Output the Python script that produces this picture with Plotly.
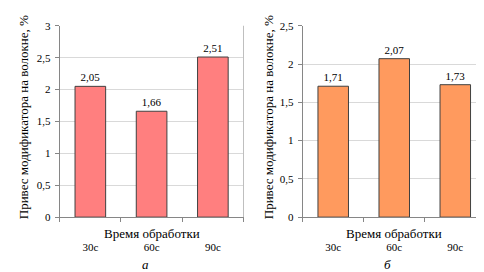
import plotly.graph_objects as go

categories = ["30с", "60с", "90с"]
values_a = [2.05, 1.66, 2.51]
values_b = [1.71, 2.07, 1.73]
y_title = "Привес модификатора на волокне, %"
x_title = "Время обработки"
captions = ["а", "б"]

FONT = "Times New Roman, DejaVu Serif"

def fmt(v):
    return f"{v:.2f}".replace(".", ",")

fig = go.Figure()
fig.add_trace(go.Bar(x=categories, y=values_a, xaxis="x", yaxis="y",
                     marker=dict(color="#FF7F7F", line=dict(color="#404040", width=1)),
                     text=[fmt(v) for v in values_a], textposition="outside",
                     textfont=dict(family=FONT, size=11, color="black"),
                     cliponaxis=False, showlegend=False))
fig.add_trace(go.Bar(x=categories, y=values_b, xaxis="x2", yaxis="y2",
                     marker=dict(color="#FF9A5E", line=dict(color="#404040", width=1)),
                     text=[fmt(v) for v in values_b], textposition="outside",
                     textfont=dict(family=FONT, size=11, color="black"),
                     cliponaxis=False, showlegend=False))

W, H = 484, 272
def px(x):
    return x / W
def py(y):
    return (H - y) / H

ydom = [py(212.5), py(12.3)]
xdom1 = [px(51.7), px(235.5)]
xdom2 = [px(294.7), px(477.8)]

xaxis_common = dict(type="category", tickson="boundaries", ticks="outside", ticklen=4,
                    tickcolor="#868686", showline=True, linecolor="#868686", linewidth=1,
                    showgrid=False, tickfont=dict(family=FONT, size=11, color="black"),
                    ticklabelstandoff=20, fixedrange=True)
yaxis_common = dict(ticks="outside", ticklen=4, tickcolor="#868686", showline=True,
                    linecolor="#868686", linewidth=1, showgrid=True, gridcolor="#D9D9D9",
                    gridwidth=1, dtick=0.5, tickfont=dict(family=FONT, size=11, color="black"),
                    zeroline=False, domain=ydom, ticklabelstandoff=2)

fig.update_layout(
    width=W, height=H, margin=dict(l=0, r=0, t=0, b=0),
    paper_bgcolor="white", plot_bgcolor="white",
    separators=", ", bargap=0.5,
    font=dict(family=FONT, color="black"),
    xaxis=dict(domain=xdom1, anchor="y", **xaxis_common),
    yaxis=dict(anchor="x", range=[0, 3], **yaxis_common),
    xaxis2=dict(domain=xdom2, anchor="y2", **xaxis_common),
    yaxis2=dict(anchor="x2", range=[0, 2.5], **yaxis_common),
)

for xa, ya in (("x", "y"), ("x2", "y2")):
    fig.add_shape(type="line", xref=f"{xa} domain", yref=f"{ya} domain",
                  x0=1, x1=1, y0=0, y1=1, line=dict(color="#BFBFBF", width=1))

ann = []
for cx, ty in ((15, 108), (260, 108)):
    ann.append(dict(text=y_title, x=px(cx), y=py(ty), xref="paper", yref="paper",
                    textangle=-90, showarrow=False, font=dict(family=FONT, size=13),
                    xanchor="center", yanchor="middle"))
for cx in ((xdom1[0] + xdom1[1]) / 2, (xdom2[0] + xdom2[1]) / 2):
    ann.append(dict(text=x_title, x=cx, y=py(230), xref="paper", yref="paper",
                    showarrow=False, font=dict(family=FONT, size=13),
                    xanchor="center", yanchor="middle"))
for (cx, cy), cap in zip(((137, 262.5), (379, 262)), captions):
    ann.append(dict(text=f"<i>{cap}</i>", x=px(cx), y=py(cy), xref="paper", yref="paper",
                    showarrow=False, font=dict(family=FONT, size=13),
                    xanchor="center", yanchor="middle"))
fig.update_layout(annotations=ann)

fig.write_html("out.html")
